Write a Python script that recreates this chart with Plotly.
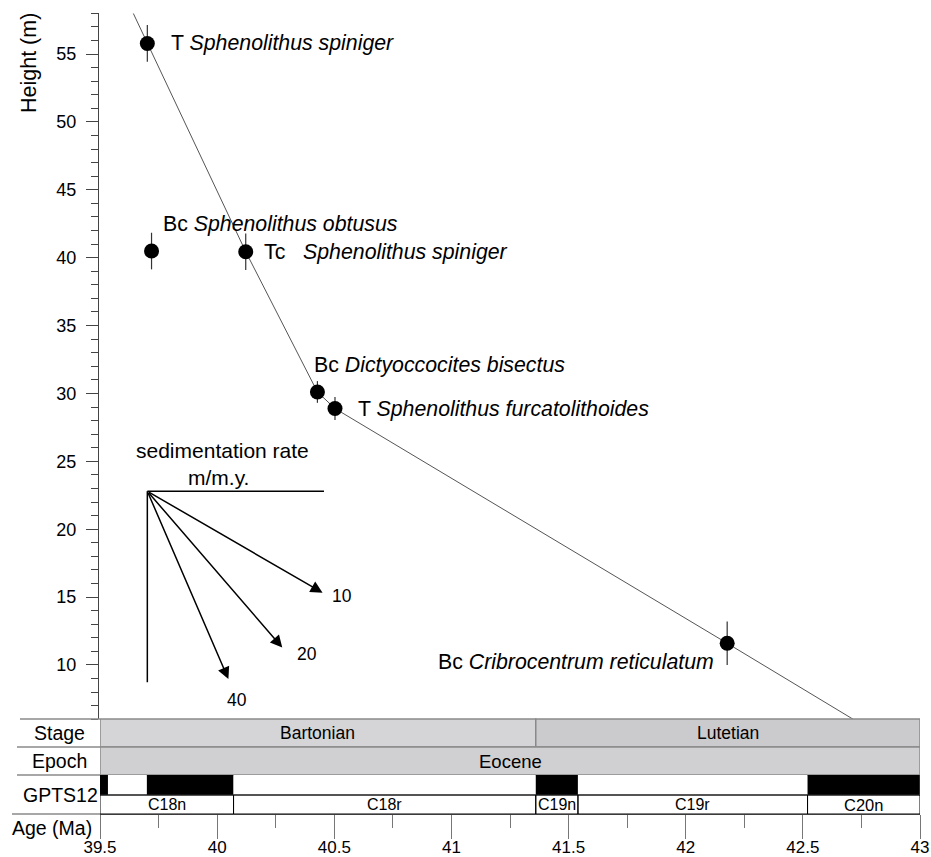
import plotly.graph_objects as go

# ---------------- data ----------------
event_prefix = ["T", "Bc", "Tc", "Bc", "T", "Bc"]
event_species = ["Sphenolithus spiniger", "Sphenolithus obtusus", "Sphenolithus spiniger",
                 "Dictyoccocites bisectus", "Sphenolithus furcatolithoides", "Cribrocentrum reticulatum"]
event_age = [39.702, 39.72, 40.122, 40.428, 40.503, 42.177]
event_height = [55.78, 40.49, 40.44, 30.11, 28.89, 11.6]
event_err = [1.35, 1.35, 1.35, 0.8, 0.85, 1.6]

model_age = [39.642, 40.122, 40.428, 40.503, 42.177, 42.715]
model_height = [58.0, 40.44, 30.11, 28.89, 11.6, 6.0]

rate_values = [10, 20, 40]
rate_span_ma = [0.748, 0.576, 0.346]
rate_origin_age = 39.702
rate_origin_height = 22.8

stage_names = ["Bartonian", "Lutetian"]
stage_bounds = [39.5, 41.36, 43.0]
epoch_names = ["Eocene"]
epoch_bounds = [39.5, 43.0]
gpts_bounds = [39.5, 39.534, 39.70, 40.07, 41.36, 41.54, 42.52, 43.0]
gpts_normal = [1, 0, 1, 0, 1, 0, 1]
chron_names = ["C18n", "C18r", "C19n", "C19r", "C20n"]
chron_bounds = [39.5, 40.07, 41.36, 41.54, 42.52, 43.0]
row_labels = ["Stage", "Epoch", "GPTS12", "Age (Ma)"]

# ---------------- layout helpers ----------------
W, H = 931, 857
FONT = "Liberation Sans, Arial, sans-serif"


def py(p):
    return 1 - p / H


def px(p):
    return p / W


fig = go.Figure()

# age model line
fig.add_trace(go.Scatter(x=model_age, y=model_height, mode="lines",
                         line=dict(color="#555555", width=1), hoverinfo="skip",
                         showlegend=False, cliponaxis=True))

# datums
fig.add_trace(go.Scatter(x=event_age, y=event_height, mode="markers",
                         marker=dict(size=15, color="black"),
                         error_y=dict(type="data", array=event_err, thickness=1.2,
                                      width=0, color="#333333"),
                         showlegend=False))

annotations = []
shapes = []

label_shift = [(22, 0, "left", 1), (9, 27, "left", 1), (16, 0, "left", 3),
               (-5, 27, "left", 1), (21, 0, "left", 1), (-11, -19, "right", 1)]
for pre, sp, a, h, (dx, dy, anc, nsp) in zip(event_prefix, event_species, event_age,
                                             event_height, label_shift):
    gap = "&nbsp;" * (nsp - 1) + " "
    annotations.append(dict(x=a, y=h, xref="x", yref="y", showarrow=False,
                            text=f"{pre}{gap}<i>{sp}</i>", xanchor=anc, yanchor="middle",
                            xshift=dx, yshift=dy,
                            font=dict(family=FONT, size=21.3, color="black")))

# sedimentation rate legend
shapes.append(dict(type="line", xref="x", yref="y", x0=rate_origin_age, x1=rate_origin_age,
                   y0=rate_origin_height, y1=8.73, line=dict(color="black", width=1.5)))
shapes.append(dict(type="line", xref="x", yref="y", x0=rate_origin_age, x1=40.456,
                   y0=rate_origin_height, y1=rate_origin_height,
                   line=dict(color="black", width=1.5)))
rate_label_shift = [(19, -3), (25, -6), (9, -21)]
for r, span, (dx, dy) in zip(rate_values, rate_span_ma, rate_label_shift):
    ex = rate_origin_age + span
    ey = rate_origin_height - r * span
    annotations.append(dict(x=ex, y=ey, xref="x", yref="y", ax=rate_origin_age,
                            ay=rate_origin_height, axref="x", ayref="y", showarrow=True,
                            arrowhead=2, arrowsize=1.6, arrowwidth=1.5, arrowcolor="black",
                            text=""))
    annotations.append(dict(x=ex, y=ey, xref="x", yref="y", showarrow=False,
                            text=str(r), xshift=dx, yshift=dy, xanchor="center",
                            yanchor="middle", font=dict(family=FONT, size=17.5, color="black")))
annotations.append(dict(x=rate_origin_age, y=rate_origin_height, xref="x", yref="y",
                        showarrow=False, text="sedimentation rate", xshift=75, yshift=41,
                        xanchor="center", yanchor="middle",
                        font=dict(family=FONT, size=21, color="black")))
annotations.append(dict(x=rate_origin_age, y=rate_origin_height, xref="x", yref="y",
                        showarrow=False, text="m/m.y.", xshift=71, yshift=14,
                        xanchor="center", yanchor="middle",
                        font=dict(family=FONT, size=21, color="black")))

# y axis title
annotations.append(dict(x=px(29), y=py(63), xref="paper", yref="paper", showarrow=False,
                        text="Height (m)", textangle=-90, xanchor="center", yanchor="middle",
                        font=dict(family=FONT, size=21.5, color="black")))

# ---------------- bottom bands ----------------
ROW_STAGE = (719, 747)
ROW_EPOCH = (747, 775)
ROW_GPTS = (775, 795)
ROW_CHRON = (795, 814)
GRAY_LINE = "#8a8a8a"

stage_fill = ["#d5d5d7", "#cbcbcd"]
for i, name in enumerate(stage_names):
    shapes.append(dict(type="rect", xref="x", yref="paper", x0=stage_bounds[i],
                       x1=stage_bounds[i + 1], y0=py(ROW_STAGE[1]), y1=py(ROW_STAGE[0]),
                       fillcolor=stage_fill[i], line=dict(color=GRAY_LINE, width=1.5)))
    annotations.append(dict(x=(stage_bounds[i] + stage_bounds[i + 1]) / 2,
                            y=py(sum(ROW_STAGE) / 2), xref="x", yref="paper",
                            showarrow=False, text=name, xanchor="center", yanchor="middle",
                            font=dict(family=FONT, size=17.5, color="black")))
for i, name in enumerate(epoch_names):
    shapes.append(dict(type="rect", xref="x", yref="paper", x0=epoch_bounds[i],
                       x1=epoch_bounds[i + 1], y0=py(ROW_EPOCH[1]), y1=py(ROW_EPOCH[0]),
                       fillcolor="#d0d0d2", line=dict(color=GRAY_LINE, width=1.5)))
    annotations.append(dict(x=(epoch_bounds[i] + epoch_bounds[i + 1]) / 2,
                            y=py(sum(ROW_EPOCH) / 2), xref="x", yref="paper",
                            showarrow=False, text=name, xanchor="center", yanchor="middle",
                            font=dict(family=FONT, size=18.5, color="black")))
for i, n in enumerate(gpts_normal):
    shapes.append(dict(type="rect", xref="x", yref="paper", x0=gpts_bounds[i],
                       x1=gpts_bounds[i + 1], y0=py(ROW_GPTS[1]), y1=py(ROW_GPTS[0]),
                       fillcolor="black" if n else "white", line=dict(width=0)))
# line between polarity and chron rows
shapes.append(dict(type="line", xref="x", yref="paper", x0=gpts_bounds[0], x1=gpts_bounds[-1],
                   y0=py(ROW_GPTS[1]), y1=py(ROW_GPTS[1]), line=dict(color="#555555", width=1)))
for i, name in enumerate(chron_names):
    shapes.append(dict(type="rect", xref="x", yref="paper", x0=chron_bounds[i],
                       x1=chron_bounds[i + 1], y0=py(ROW_CHRON[1]), y1=py(ROW_CHRON[0]),
                       fillcolor="rgba(0,0,0,0)", line=dict(color="black", width=1)))
    annotations.append(dict(x=(chron_bounds[i] + chron_bounds[i + 1]) / 2,
                            y=py(sum(ROW_CHRON) / 2), xref="x", yref="paper",
                            showarrow=False, text=name, xanchor="center", yanchor="middle",
                            font=dict(family=FONT, size=16.5 if name == "C20n" else 16,
                                      color="black")))
# right border of the GPTS row
shapes.append(dict(type="line", xref="x", yref="paper", x0=gpts_bounds[-1], x1=gpts_bounds[-1],
                   y0=py(ROW_GPTS[1]), y1=py(ROW_GPTS[0]), line=dict(color="#555555", width=1)))

# left row labels and separators
row_centers = [(ROW_STAGE[0] + ROW_STAGE[1]) / 2, (ROW_EPOCH[0] + ROW_EPOCH[1]) / 2,
               795, 828]
row_x = [59, 59, 60, 52]
for lab, yc, xc in zip(row_labels, row_centers, row_x):
    annotations.append(dict(x=px(xc), y=py(yc), xref="paper", yref="paper", showarrow=False,
                            text=lab, xanchor="center", yanchor="middle",
                            font=dict(family=FONT, size=19.5, color="black")))
sep_lines = [(20, 719), (17, 747), (17, 775), (12, 814)]
for x0, yy in sep_lines:
    shapes.append(dict(type="line", xref="paper", yref="paper", x0=px(x0), x1=px(100),
                       y0=py(yy), y1=py(yy), line=dict(color=GRAY_LINE, width=1.5)))

fig.update_layout(
    width=W, height=H, autosize=False,
    margin=dict(l=0, r=0, t=0, b=0, pad=0, autoexpand=False),
    paper_bgcolor="white", plot_bgcolor="white",
    showlegend=False,
    font=dict(family=FONT, color="black"),
    xaxis=dict(domain=[px(100), px(920)], range=[39.5, 43.0], anchor="free",
               position=py(814), automargin=False, showgrid=False, zeroline=False,
               showline=True,
               linecolor="#777777", linewidth=1, ticks="outside", ticklen=24,
               tickcolor="#777777", tickwidth=1, tick0=39.5, dtick=0.5,
               ticklabelstandoff=-6,
               tickfont=dict(family=FONT, size=17, color="black"),
               minor=dict(ticks="outside", ticklen=13, dtick=0.25, tick0=39.5,
                          tickcolor="#777777", tickwidth=1, showgrid=False)),
    yaxis=dict(domain=[py(719.3), py(13.3)], range=[6, 58], anchor="free",
               position=px(98), automargin=False, showgrid=False, zeroline=False,
               showline=True,
               linecolor="#444444", linewidth=1.2, ticks="outside", ticklen=12,
               tickcolor="#444444", tickwidth=1.2, tick0=0, dtick=5,
               ticklabelstandoff=6,
               tickfont=dict(family=FONT, size=18, color="black"),
               minor=dict(ticks="outside", ticklen=7, dtick=1, tick0=0,
                          tickcolor="#444444", tickwidth=1, showgrid=False)),
    shapes=shapes,
    annotations=annotations,
)

fig.write_html("out.html")
